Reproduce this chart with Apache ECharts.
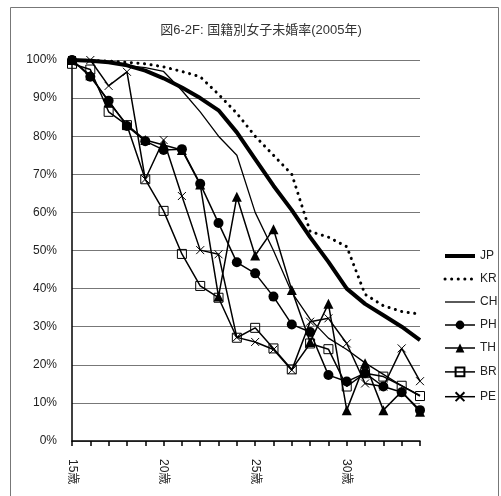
<!DOCTYPE html>
<html>
<head>
<meta charset="utf-8">
<script src="https://cdn.jsdelivr.net/npm/echarts@6/dist/echarts.min.js"></script>
<style>
  html, body { margin: 0; padding: 0; background: #fff; }
  #chart { width: 501px; height: 496px; }
</style>
</head>
<body>
<div id="chart"></div>
<script>
// 年齢（横軸）
var ages = ['15歳', '16歳', '17歳', '18歳', '19歳', '20歳', '21歳', '22歳', '23歳', '24歳',
            '25歳', '26歳', '27歳', '28歳', '29歳', '30歳', '31歳', '32歳', '33歳', '34歳'];

// 国籍別 未婚率 (%)
var JP = [100, 99.8, 99.4, 98.6, 97.2, 95.2, 92.8, 90, 86.8, 81, 74, 67, 60.6, 53.5, 47, 40, 36, 33, 30, 26.5];
var KR = [100, 99.9, 99.7, 99.4, 99, 98.2, 97, 95.6, 91, 86, 80, 75, 70, 55, 53.5, 51, 38.5, 35.5, 34, 33.3];
var CH = [100, 100, 99.5, 98.5, 98, 97, 92, 86.4, 80, 75, 60, 50, 39, 32, 27, 24, 20.5, 17.5, 14.5, 12];
var PH = [100, 95.6, 89.3, 82.7, 78.7, 76.4, 76.6, 67.5, 57.2, 46.9, 44, 37.9, 30.6, 28.6, 17.3, 15.6, 17.8, 14.3, 12.8, 8.1];
var TH = [100, 96, 89, 83, 79, 77.7, 76.4, 67.3, 37.9, 64.1, 48.7, 55.6, 39.6, 26, 36, 8.1, 20.4, 8.1, 13, 7.7];
var BR = [99, 97.5, 86.4, 82.9, 68.7, 60.4, 49.1, 40.7, 37.6, 27.1, 29.7, 24.3, 18.8, 25.6, 24.1, 14.3, 17.8, 16.9, 14.5, 11.8];
var PE = [100, 100, 93.2, 96.9, 68.7, 79, 64.3, 50.1, 49, 27.2, 26, 24, 18.6, 31.3, 32.2, 25.6, 15.1, 14.3, 24.3, 15.7];

var font = "'Liberation Sans', 'Noto Sans CJK JP', sans-serif";

function line(name, data, opt) {
  var s = {
    name: name,
    type: 'line',
    data: data,
    symbol: 'none',
    lineStyle: { color: '#000', width: 1.5 },
    itemStyle: { color: '#000' },
    emphasis: { disabled: true },
    z: 3
  };
  return Object.assign(s, opt);
}

// 記号なしの系列は凡例でも線だけにする
var noMark = { opacity: 0 };

var chart = echarts.init(document.getElementById('chart'));
chart.setOption({
  animation: false,
  textStyle: { fontFamily: font },
  title: {
    text: '図6-2F: 国籍別女子未婚率(2005年)',
    left: 256,
    textAlign: 'center',
    top: 19,
    textStyle: { fontSize: 13, fontWeight: 'normal', color: '#333', fontFamily: font }
  },
  graphic: [{
    type: 'rect',
    shape: { x: 10.5, y: 7.5, width: 488, height: 500 },
    style: { fill: 'none', stroke: '#777', lineWidth: 1 },
    silent: true
  }],
  legend: {
    orient: 'vertical',
    left: 438,
    top: 245,
    itemWidth: 30,
    itemHeight: 11,
    itemGap: 11,
    textStyle: { fontSize: 12, color: '#222', fontFamily: font },
    data: [
      { name: 'JP', itemStyle: noMark, lineStyle: { width: 4 } },
      { name: 'KR', itemStyle: noMark, lineStyle: { width: 3 } },
      { name: 'CH', itemStyle: noMark, lineStyle: { width: 1.3 } },
      { name: 'PH', lineStyle: { width: 1.5 } },
      { name: 'TH', lineStyle: { width: 1.5 } },
      { name: 'BR', lineStyle: { width: 1.5 } },
      { name: 'PE', lineStyle: { width: 1.5 } }
    ]
  },
  grid: { left: 72, top: 60, right: 81, bottom: 55 },
  xAxis: {
    type: 'category',
    data: ages,
    boundaryGap: false,
    axisLine: { lineStyle: { color: '#000', width: 1.5 } },
    axisTick: { show: true, interval: 0, length: 5, lineStyle: { color: '#000', width: 1.5 } },
    axisLabel: { interval: 4, rotate: -90, margin: 18, fontSize: 12, color: '#222' },
    splitLine: { show: false }
  },
  yAxis: {
    type: 'value',
    min: 0,
    max: 100,
    interval: 10,
    axisLine: { show: true, lineStyle: { color: '#000', width: 1.5 } },
    axisTick: { show: false },
    axisLabel: { formatter: '{value}%', margin: 15, fontSize: 12, color: '#222' },
    splitLine: { lineStyle: { color: '#777', width: 1 } }
  },
  series: [
    line('JP', JP, { lineStyle: { color: '#000', width: 4 } }),
    line('KR', KR, { lineStyle: { color: '#000', width: 3, type: [0.1, 6.5], cap: 'round' } }),
    line('CH', CH, { lineStyle: { color: '#000', width: 1.3 } }),
    line('PH', PH, { symbol: 'circle', symbolSize: 10 }),
    line('TH', TH, { symbol: 'triangle', symbolSize: 10 }),
    line('BR', BR, { symbol: 'rect', symbolSize: 9,
      itemStyle: { color: 'none', borderColor: '#000', borderWidth: 1 } }),
    line('PE', PE, { symbol: 'path://M0,0L10,10M10,0L0,10', symbolSize: 8,
      itemStyle: { color: 'none', borderColor: '#000', borderWidth: 1 } })
  ]
});
</script>
</body>
</html>
